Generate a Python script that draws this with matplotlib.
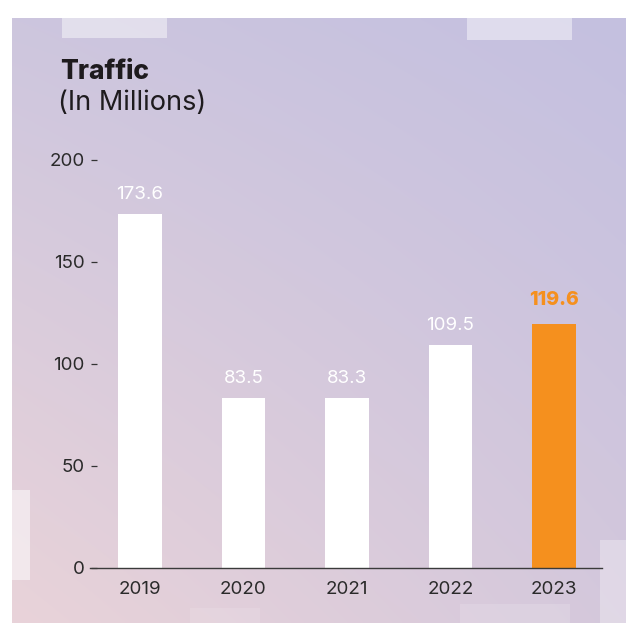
import matplotlib.pyplot as plt
import numpy as np
from matplotlib.lines import Line2D

years = ['2019', '2020', '2021', '2022', '2023']
traffic = [173.6, 83.5, 83.3, 109.5, 119.6]
bar_colors = ['white', 'white', 'white', 'white', '#f5901e']
yticks = [0, 50, 100, 150, 200]

plt.rcParams['font.family'] = ['Inter', 'DejaVu Sans']

W, H = 635, 623
fig = plt.figure(figsize=(W / 100, H / 100), dpi=100)
fig.patch.set_facecolor('white')

# background panel: diagonal gradient, pink at bottom-left to lavender at top-right
bg = fig.add_axes([0, 0, 1, 1], zorder=0)
bg.set_xlim(0, W)
bg.set_ylim(H, 0)
bg.axis('off')
ny, nx = 200, 200
yy, xx = np.mgrid[0:1:ny * 1j, 0:1:nx * 1j]
tl = np.array([205, 198, 222]) / 255
tr = np.array([196, 192, 224]) / 255
bl = np.array([233, 211, 217]) / 255
br = np.array([212, 200, 220]) / 255
img = ((1 - xx)[..., None] * (1 - yy)[..., None] * tl + xx[..., None] * (1 - yy)[..., None] * tr
       + (1 - xx)[..., None] * yy[..., None] * bl + xx[..., None] * yy[..., None] * br)
bg.imshow(img, extent=[12, 626, 623, 18], aspect='auto', interpolation='bilinear')
# worn light patches along the edges
for x0, y0, w, h, a in [(62, 16, 105, 22, 0.45), (467, 14, 105, 26, 0.45),
                        (0, 490, 30, 90, 0.5), (600, 540, 26, 83, 0.3),
                        (190, 608, 70, 15, 0.12), (460, 604, 110, 19, 0.15)]:
    bg.add_patch(plt.Rectangle((x0, y0), w, h, color='white', alpha=a, lw=0))

ax = fig.add_axes([97 / W, 55 / H, 505 / W, 408 / H], zorder=1)
ax.patch.set_alpha(0)
x = np.arange(len(years))
ax.bar(x, traffic, width=0.42, color=bar_colors, zorder=2)
ax.set_xlim(-0.415, 4.464)
ax.set_ylim(0, 200)
ax.set_xticks(x, years)
ax.set_yticks(yticks, [str(t) for t in yticks])
for s in ['top', 'right', 'left', 'bottom']:
    ax.spines[s].set_visible(False)
# baseline runs a little past the y ticks
ax.add_line(Line2D([-7 / 505, 1], [0, 0], transform=ax.transAxes, color='#3a3a3a',
                   lw=1, clip_on=False, zorder=3))
ax.tick_params(axis='x', length=0, pad=9, labelsize=13.5, labelcolor='#2a2a2a')
ax.tick_params(axis='y', length=4, width=0.9, color='#333333', pad=5,
               labelsize=13.5, labelcolor='#2a2a2a', direction='out')

for i, v in enumerate(traffic):
    last = i == len(traffic) - 1
    ax.annotate(f'{v:.1f}', (i, v), xytext=(0, 11 if last else 8), textcoords='offset points',
                ha='center', va='bottom', fontsize=14 if last else 13.5,
                color='#f5901e' if last else 'white',
                fontweight='heavy' if last else 'normal', clip_on=False)

fig.text(60 / W, 1 - 72 / H, 'Traffic', fontsize=19, fontweight='heavy',
         color='#1e1b1e', va='center', ha='left')
fig.text(58 / W, 1 - 103 / H, '(In Millions)', fontsize=19.5,
         color='#1e1b1e', va='center', ha='left')

fig.savefig('out.png', dpi=100)
